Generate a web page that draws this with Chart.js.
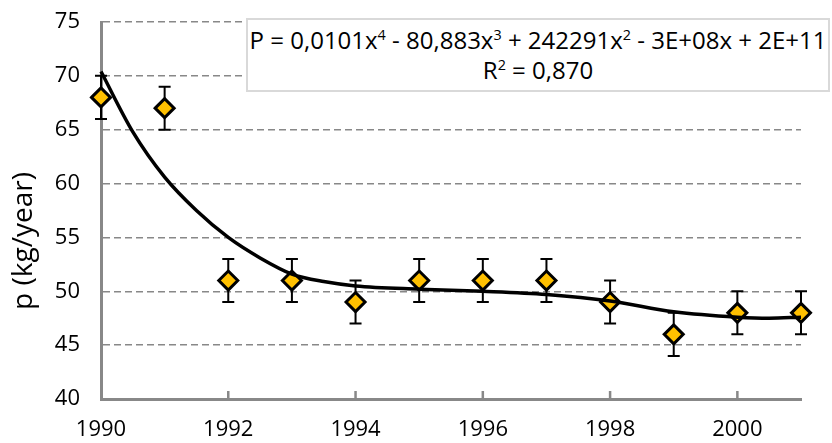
<!DOCTYPE html>
<html><head><meta charset="utf-8">
<script src="https://cdn.jsdelivr.net/npm/chart.js@4.4.1/dist/chart.umd.min.js"></script>
<style>
html,body{margin:0;padding:0;background:#fff;}
#wrap{position:relative;width:832px;height:443px;overflow:hidden;background:#fff;}
#eq{position:absolute;left:246px;top:18px;width:584px;height:74px;box-sizing:border-box;border:2px solid #d9d9d9;background:#fff;font-family:"Open Sans";font-size:24px;line-height:30px;text-align:center;padding-top:5px;color:#000;white-space:nowrap;}
#eq sup{font-size:0.6em;line-height:0;vertical-align:0.65em;}
</style></head><body>
<div id="wrap"><canvas id="c" width="832" height="443"></canvas>
<div id="eq">P = 0,0101x<sup>4</sup> - 80,883x<sup>3</sup> + 242291x<sup>2</sup> - 3E+08x + 2E+11<br>R<sup>2</sup> = 0,870</div></div>
<script>
// Observed data (year, p in kg/year) with error bars
const years = [1990, 1991, 1992, 1993, 1994, 1995, 1996, 1997, 1998, 1999, 2000, 2001];
const values = [68, 67, 51, 51, 49, 51, 51, 51, 49, 46, 48, 48];
const errors = [2, 2, 2, 2, 2, 2, 2, 2, 2, 2, 2, 2];
// Trend curve
const trendYears = [1990, 1990.5, 1991, 1991.5, 1992, 1992.5, 1993, 1993.5, 1994, 1995, 1996, 1997, 1998, 1999, 2000, 2000.5, 2001];
const trendValues = [70.4, 64.8, 60.6, 57.5, 55.0, 53.1, 51.6, 50.9, 50.5, 50.2, 50.0, 49.7, 49.1, 48.1, 47.6, 47.5, 47.6];
// Tick labels
const xTicks = [1990, 1992, 1994, 1996, 1998, 2000];
const yTicks = [40, 45, 50, 55, 60, 65, 70, 75];
const yTitle = 'p (kg/year)';

const FONT = '"Open Sans", "DejaVu Sans", sans-serif';

const overlay = {
  id: 'overlay',
  beforeDatasetsDraw(chart) {
    const ctx = chart.ctx, xs = chart.scales.x, ys = chart.scales.y;
    ctx.save();
    ctx.strokeStyle = '#000';
    ctx.lineWidth = 2;
    years.forEach((yr, i) => {
      const x = xs.getPixelForValue(yr);
      const yt = ys.getPixelForValue(values[i] + errors[i]);
      const yb = ys.getPixelForValue(values[i] - errors[i]);
      ctx.beginPath();
      ctx.moveTo(x, yt); ctx.lineTo(x, yb);
      ctx.moveTo(x - 6, yt); ctx.lineTo(x + 6, yt);
      ctx.moveTo(x - 6, yb); ctx.lineTo(x + 6, yb);
      ctx.stroke();
    });
    ctx.strokeStyle = '#888';
    ctx.lineWidth = 2.5;
    xTicks.forEach(v => {
      if (v === xTicks[0]) return;
      const x = xs.getPixelForValue(v);
      ctx.beginPath();
      ctx.moveTo(x, ys.bottom);
      ctx.lineTo(x, ys.bottom - 8);
      ctx.stroke();
    });
    ctx.restore();
  },
  afterDraw(chart) {
    const ctx = chart.ctx;
    ctx.save();
    ctx.translate(24, 241);
    ctx.rotate(-Math.PI / 2);
    ctx.fillStyle = '#000';
    ctx.font = '28px ' + FONT;
    ctx.textAlign = 'center';
    ctx.textBaseline = 'middle';
    ctx.fillText(yTitle, 0, 0);
    ctx.restore();
  }
};

new Chart(document.getElementById('c'), {
  type: 'scatter',
  data: {
    datasets: [
      {
        type: 'line',
        label: 'Trend',
        data: trendYears.map((x, i) => ({ x, y: trendValues[i] })),
        borderColor: '#000',
        borderWidth: 3.5,
        pointRadius: 0,
        fill: false,
        cubicInterpolationMode: 'monotone',
        order: 0,
        clip: false
      },
      {
        label: 'p',
        data: years.map((x, i) => ({ x, y: values[i] })),
        pointStyle: 'rectRot',
        pointRadius: 9.5,
        pointHoverRadius: 9.5,
        backgroundColor: '#FFC000',
        borderColor: '#000',
        pointBorderWidth: 3,
        borderWidth: 3,
        order: 1,
        clip: false
      }
    ]
  },
  options: {
    responsive: false,
    animation: false,
    devicePixelRatio: 1,
    layout: { padding: { left: 0, right: 31, top: 22, bottom: 0 } },
    plugins: { legend: { display: false }, tooltip: { enabled: false } },
    scales: {
      x: {
        type: 'linear',
        min: 1990,
        max: 2001,
        afterBuildTicks: s => { s.ticks = xTicks.map(v => ({ value: v })); },
        afterFit: s => { s.height = 44; s.paddingLeft = 0; s.paddingRight = 0; s.paddingTop = 0; s.paddingBottom = 0; },
        grid: { display: true, drawOnChartArea: false, drawTicks: false },
        border: { color: '#888', width: 3 },
        ticks: {
          padding: 18,
          color: '#000',
          font: { family: FONT, size: 22 },
          maxRotation: 0,
          callback: v => String(v)
        }
      },
      y: {
        min: 40,
        max: 75,
        afterBuildTicks: s => { s.ticks = yTicks.map(v => ({ value: v })); },
        afterFit: s => { s.width = 101; s.paddingTop = 0; s.paddingBottom = 0; s.paddingLeft = 0; s.paddingRight = 0; },
        grid: {
          drawTicks: false,
          color: c => (c.tick && c.tick.value === 40) ? 'rgba(0,0,0,0)' : '#888',
          lineWidth: 1.5
        },
        border: { color: '#888', width: 3, dash: [7, 4] },
        ticks: {
          padding: 21,
          color: '#000',
          font: { family: FONT, size: 22 },
          callback: v => String(v)
        }
      }
    }
  },
  plugins: [overlay]
});
</script>
</body></html>
